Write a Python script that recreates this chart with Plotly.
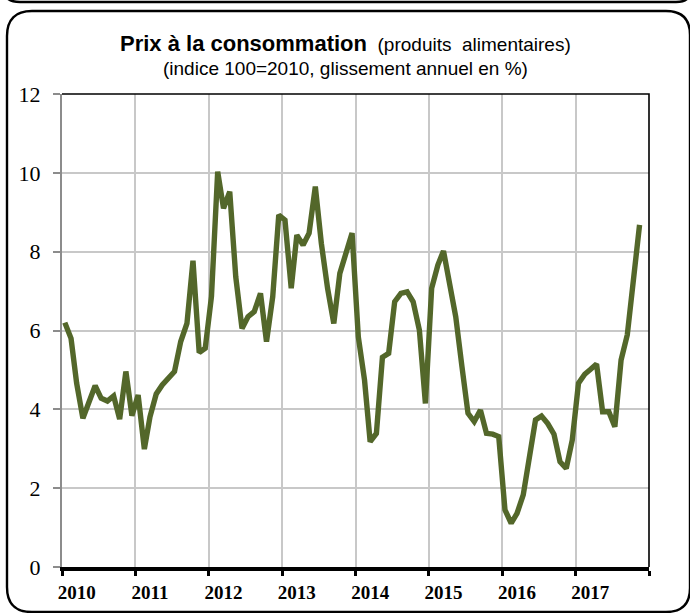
import pandas as pd
import plotly.graph_objects as go

# Monthly food consumer price inflation (year-on-year, %), Jan 2010 - Nov 2017
start_month = "2010-01-01"
values = [
    # 2010
    6.20, 5.80, 4.66, 3.77, 4.18, 4.60, 4.28, 4.21, 4.34, 3.75, 4.96, 3.84,
    # 2011
    4.36, 2.99, 3.81, 4.39, 4.62, 4.79, 4.96, 5.72, 6.18, 7.77, 5.44, 5.55,
    # 2012
    6.86, 10.03, 9.10, 9.52, 7.36, 6.05, 6.35, 6.48, 6.94, 5.72, 6.86, 8.93,
    # 2013
    8.80, 7.07, 8.42, 8.17, 8.47, 9.65, 8.21, 7.07, 6.18, 7.45, 7.96, 8.47,
    # 2014
    5.84, 4.74, 3.18, 3.39, 5.32, 5.42, 6.73, 6.94, 6.98, 6.73, 6.01, 4.15,
    # 2015
    7.07, 7.66, 8.02, 7.20, 6.35, 5.08, 3.90, 3.69, 3.98, 3.39, 3.37, 3.31,
    # 2016
    1.45, 1.11, 1.36, 1.83, 2.80, 3.73, 3.83, 3.64, 3.37, 2.67, 2.50, 3.22,
    # 2017
    4.66, 4.89, 5.01, 5.15, 3.94, 3.94, 3.56, 5.25, 5.89, 7.20, 8.68,
]
# each monthly value is plotted mid-month
dates = pd.date_range(start_month, periods=len(values), freq="MS") + pd.Timedelta(days=14)

years = [2010, 2011, 2012, 2013, 2014, 2015, 2016, 2017]
year_labels = [str(y) for y in years]
y_ticks = [0, 2, 4, 6, 8, 10, 12]

LINE_COLOR = "#53672A"
W, H = 690, 613
L, R, T, B = 62, 649, 94, 567


def px(x, y):
    """Page pixel -> paper coordinates."""
    return (x - L) / (R - L), (B - y) / (B - T)


def path(points):
    parts = []
    for cmd, pts in points:
        coords = " ".join("%.5f,%.5f" % px(*p) for p in pts)
        parts.append(cmd + " " + coords if coords else cmd)
    return " ".join(parts)


fig = go.Figure()
fig.add_trace(go.Scatter(
    x=dates, y=values, mode="lines",
    line=dict(color=LINE_COLOR, width=5.4, shape="linear"),
    hoverinfo="x+y", showlegend=False,
))

# frame around the chart and the edge of the panel above it
outer = path([
    ("M", [(7, 36)]), ("Q", [(7, 11), (32, 11)]), ("L", [(666, 11)]),
    ("Q", [(690, 11), (690, 35)]), ("L", [(690, 588)]),
    ("Q", [(690, 612), (666, 612)]), ("L", [(32, 612)]),
    ("Q", [(7, 612), (7, 587)]), ("Z", []),
])
upper = path([
    ("M", [(2, -12)]), ("Q", [(4, 2), (20, 2)]), ("L", [(676, 2)]),
    ("Q", [(688, 2), (690, -6)]),
])
plot_border = path([("M", [(L, T)]), ("L", [(R, T)]), ("L", [(R, B)])])

shapes = [
    dict(type="path", xref="paper", yref="paper", path=outer,
         line=dict(color="black", width=2.4), fillcolor="rgba(0,0,0,0)"),
    dict(type="path", xref="paper", yref="paper", path=upper,
         line=dict(color="black", width=2.4), fillcolor="rgba(0,0,0,0)"),
    dict(type="path", xref="paper", yref="paper", path=plot_border,
         line=dict(color="black", width=1.6), fillcolor="rgba(0,0,0,0)",
         layer="above"),
]

title_font = "Liberation Sans, Arial, sans-serif"
annotations = [
    dict(xref="paper", yref="paper", x=px(345, 0)[0], y=px(0, 44)[1],
         text="<span style='font-size:22px'><b>Prix à la consommation</b></span>"
              "  (produits  alimentaires)",
         showarrow=False, xanchor="center", yanchor="middle",
         font=dict(family=title_font, size=19, color="black")),
    dict(xref="paper", yref="paper", x=px(345, 0)[0], y=px(0, 68)[1],
         text="(indice 100=2010, glissement annuel en %)",
         showarrow=False, xanchor="center", yanchor="middle",
         font=dict(family=title_font, size=19, color="black")),
]

label_dates = [pd.Timestamp(f"{y}-03-15") for y in years]

fig.update_layout(
    width=W, height=H,
    margin=dict(l=L, r=W - R, t=T, b=H - B, pad=0),
    paper_bgcolor="white", plot_bgcolor="white",
    shapes=shapes, annotations=annotations,
    xaxis=dict(
        type="date",
        range=["2010-01-01", "2018-01-01"],
        tickmode="array", tickvals=label_dates, ticktext=year_labels,
        ticks="", showgrid=False,
        tickfont=dict(family="Liberation Serif, Times New Roman, serif",
                      size=19, color="black", weight="bold"),
        ticklabelstandoff=5,
        showline=True, linecolor="black", linewidth=4,
        zeroline=False, automargin=False,
        minor=dict(tickmode="linear", tick0="2010-01-01", dtick="M12",
                   ticks="outside", ticklen=5, tickwidth=3, tickcolor="black",
                   showgrid=True, gridcolor="#C8C8C8", gridwidth=1.5),
        fixedrange=True,
    ),
    yaxis=dict(
        range=[0, 12], tickmode="array", tickvals=y_ticks,
        ticks="outside", ticklen=7, tickwidth=1.5, tickcolor="#8C8C8C",
        showline=True, linecolor="#8C8C8C", linewidth=2,
        showgrid=True, gridcolor="#C8C8C8", gridwidth=1.5,
        zeroline=False, automargin=False,
        tickfont=dict(family="Liberation Serif, Times New Roman, serif",
                      size=22, color="black"),
        ticklabelstandoff=8,
        fixedrange=True,
    ),
)

fig.write_html("out.html")
